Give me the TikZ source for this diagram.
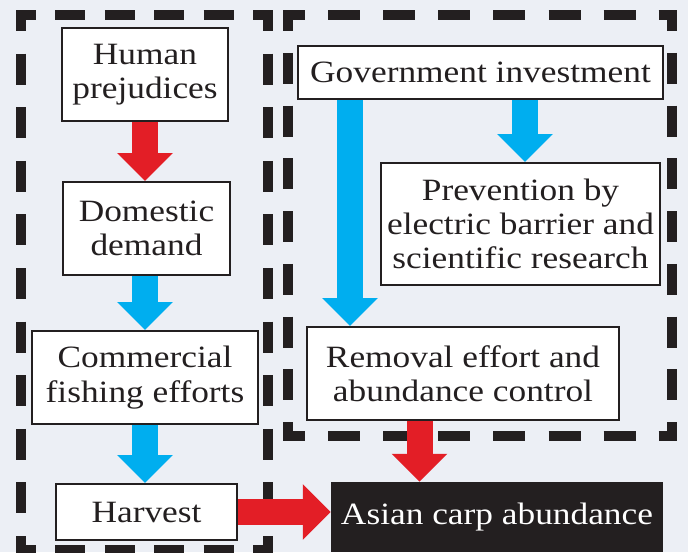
\documentclass[tikz,border=0pt]{standalone}
\usepackage{fontspec}
\setmainfont{Liberation Serif}[FakeStretch=1.14]
\usetikzlibrary{arrows.meta,calc}

\definecolor{bgpanel}{HTML}{ECEFF5}
\definecolor{inkdark}{HTML}{231F20}
\definecolor{flowred}{HTML}{E31E26}
\definecolor{flowblue}{HTML}{00AEEF}

\tikzset{
  labelfont/.style={font=\fontsize{31}{34.3}\selectfont},
  box/.style={draw=inkdark, line width=2pt, fill=white, text=inkdark,
    inner sep=0pt, align=center, labelfont},
  outcome/.style={fill=inkdark, text=white, inner sep=0pt, labelfont},
  fatarrow/.style={line width=26pt, -{Triangle[length=28pt,width=54pt]}},
  fatred/.style={fatarrow, draw=flowred},
  fatblue/.style={fatarrow, draw=flowblue},
  groupedge/.style={draw=inkdark, line width=10pt, dash phase=10pt},
}

\begin{document}
\begin{tikzpicture}[x=1pt, y=-1pt]
\useasboundingbox (0,0) rectangle (688,552);
\fill[bgpanel] (0,0) rectangle (688,552);
\begin{scope}
\clip (0,0) rectangle (688,552);

% dashed frame around the market side
\draw[groupedge, dash pattern=on 30pt off 19.4pt] (16,15) -- (273,15);
\draw[groupedge, dash pattern=on 30pt off 19.4pt] (16,550) -- (273,550);
\draw[groupedge, dash pattern=on 31pt off 22.6pt] (21,10) -- (21,555);
\draw[groupedge, dash pattern=on 31pt off 22.6pt] (268,10) -- (268,555);

% dashed frame around the management side
\draw[groupedge, dash pattern=on 32pt off 23.1pt] (283,15) -- (677,15);
\draw[groupedge, dash pattern=on 32pt off 23.1pt] (283,436) -- (677,436);
\draw[groupedge, dash pattern=on 31pt off 21.75pt] (288,10) -- (288,441);
\draw[groupedge, dash pattern=on 31pt off 21.75pt] (672,10) -- (672,441);

% market side
\node[box, minimum width=166pt, minimum height=93pt] (hum) at (145,74.5) {Human\\prejudices};
\node[box, minimum width=167pt, minimum height=93pt] (dom) at (146.5,228.5) {Domestic\\demand};
\node[box, minimum width=226pt, minimum height=93pt] (com) at (145,377.5) {Commercial\\fishing efforts};
\node[box, minimum width=181pt, minimum height=56pt] (harv) at (146.5,512) {Harvest};

% management side
\node[box, minimum width=365pt, minimum height=53pt] (gov) at (480.5,72.5) {Government investment};
\node[box, minimum width=279pt, minimum height=122pt] (prev) at (520.5,224) {Prevention by\\electric barrier and\\scientific research};
\node[box, minimum width=312pt, minimum height=93pt] (rem) at (463,373.5) {Removal effort and\\abundance control};

% outcome
\node[outcome, minimum width=332pt, minimum height=70pt] (carp) at (497,517) {Asian carp abundance};

% flows
\draw[fatred]  (hum.south) -- (dom.north -| hum.south);
\draw[fatblue] (dom.south -| hum.south) -- (com.north);
\draw[fatblue] (com.south) -- (harv.north -| com.south);
\draw[fatred]  (harv.east) -- (carp.west |- harv.east);
\draw[fatblue] ([xshift=4.5pt]prev.north |- gov.south) -- ([xshift=4.5pt]prev.north);
\draw[fatblue] ([xshift=44pt]rem.north west |- gov.south) -- ([xshift=44pt]rem.north west);
\draw[fatred]  ([xshift=113.5pt]rem.south west) -- ([xshift=113.5pt]rem.south west |- carp.north);
\end{scope}
\end{tikzpicture}
\end{document}
